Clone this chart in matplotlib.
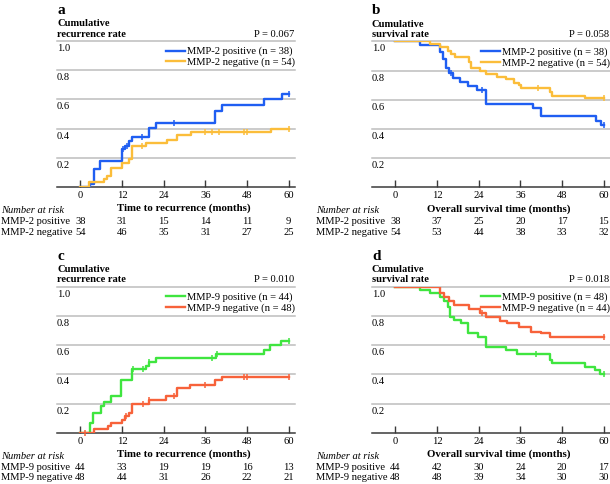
import numpy as np
import matplotlib
matplotlib.use("Agg")
import matplotlib.pyplot as plt
from matplotlib import transforms

plt.rcParams['font.family'] = ['Liberation Serif', 'DejaVu Serif']

# ---------------- data ----------------
xticks = [0, 12, 24, 36, 48, 60]
yticks = [0.2, 0.4, 0.6, 0.8, 1.0]

# Panel a: cumulative recurrence, MMP-2
a_pos_t = [0, 2.7, 3.9, 5.8, 11.9, 12.8, 13.9, 14.9, 19.8, 21.9, 38.8, 40.8, 53.0, 58.0, 60]
a_pos_v = [0, 0.02, 0.126, 0.178, 0.258, 0.283, 0.313, 0.34, 0.407, 0.44, 0.52, 0.56, 0.60, 0.64, 0.64]
a_pos_c = [12.3, 13.5, 17.8, 27.0, 60]
a_neg_t = [0, 2.6, 6.8, 7.8, 8.9, 11.9, 13.9, 14.8, 18.8, 24.9, 27.9, 32.0, 55.0, 60]
a_neg_v = [0, 0.034, 0.055, 0.075, 0.128, 0.165, 0.19, 0.28, 0.30, 0.32, 0.354, 0.377, 0.40, 0.40]
a_neg_c = [17.8, 35.9, 37.9, 39.9, 47.0, 48.0, 60]
a_risk_pos = [38, 31, 15, 14, 11, 9]
a_risk_neg = [54, 46, 35, 31, 27, 25]

# Panel b: overall survival, MMP-2
b_pos_t = [0, 7.0, 13.0, 13.7, 14.7, 15.6, 16.6, 18.5, 20.8, 23.6, 26.0, 39.6, 42.0, 57.9, 59.1, 60]
b_pos_v = [1, 0.977, 0.93, 0.88, 0.815, 0.78, 0.75, 0.72, 0.696, 0.667, 0.571, 0.54, 0.49, 0.457, 0.427, 0.427]
b_pos_c = [15.9, 25.0, 60]
b_neg_t = [0, 9.9, 13.0, 15.2, 16.1, 17.2, 21.2, 21.9, 24.3, 26.0, 29.4, 31.8, 34.3, 35.6, 36.3, 44.4, 45.0, 54.7, 60]
b_neg_v = [1, 0.982, 0.959, 0.936, 0.913, 0.89, 0.86, 0.815, 0.80, 0.776, 0.758, 0.74, 0.717, 0.70, 0.68, 0.65, 0.628, 0.614, 0.614]
b_neg_c = [41.1, 60]
b_risk_pos = [38, 37, 25, 20, 17, 15]
b_risk_neg = [54, 53, 44, 38, 33, 32]

# Panel c: cumulative recurrence, MMP-9
c_pos_t = [0, 2.7, 3.8, 5.9, 6.9, 8.8, 11.8, 15.0, 19.0, 19.75, 21.9, 39.0, 52.9, 54.6, 57.9, 60]
c_pos_v = [0, 0.069, 0.138, 0.184, 0.209, 0.25, 0.363, 0.437, 0.46, 0.485, 0.51, 0.54, 0.565, 0.60, 0.628, 0.628]
c_pos_c = [15.2, 18.0, 19.8, 38.0, 39.3, 60]
c_neg_t = [0, 4.0, 8.0, 8.8, 12.0, 12.9, 14.0, 15.0, 19.7, 24.7, 27.8, 31.7, 38.9, 40.9, 60]
c_neg_v = [0, 0.025, 0.048, 0.069, 0.087, 0.115, 0.133, 0.198, 0.225, 0.253, 0.303, 0.326, 0.359, 0.384, 0.384]
c_neg_c = [1.3, 13.2, 18.0, 19.9, 27.0, 35.9, 47.0, 48.0, 60]
c_risk_pos = [44, 33, 19, 19, 16, 13]
c_risk_neg = [48, 44, 31, 26, 22, 21]

# Panel d: overall survival, MMP-9
d_pos_t = [0, 7.0, 9.9, 13.0, 13.9, 15.1, 15.8, 16.8, 18.8, 21.0, 23.8, 26.0, 32.0, 35.0, 44.4, 45.0, 54.7, 57.4, 58.8, 60]
d_pos_v = [1, 0.977, 0.954, 0.927, 0.904, 0.863, 0.795, 0.772, 0.75, 0.685, 0.658, 0.589, 0.566, 0.539, 0.498, 0.475, 0.452, 0.43, 0.40, 0.40]
d_pos_c = [40.6, 60]
d_neg_t = [0, 13.0, 13.9, 15.6, 16.8, 21.2, 24.3, 26.0, 30.0, 32.2, 35.6, 39.2, 42.0, 44.4, 60]
d_neg_v = [1, 0.954, 0.927, 0.90, 0.874, 0.845, 0.822, 0.795, 0.767, 0.75, 0.726, 0.69, 0.68, 0.658, 0.658]
d_neg_c = [25.0, 60]
d_risk_pos = [44, 42, 30, 24, 20, 17]
d_risk_neg = [48, 48, 39, 34, 30, 30]

BLUE = '#1f5ef2'
ORANGE = '#fbbd3a'
GREEN = '#3fe53f'
RED = '#f7623a'

W, H = 610, 484
fig = plt.figure(figsize=(W / 100, H / 100), dpi=100)

FS = 7.6


def px_axes(l, r, t, b):
    return fig.add_axes([l / W, 1 - b / H, (r - l) / W, (b - t) / H])


def ftext(x, y, s, **kw):
    fig.text(x / W, 1 - y / H, s, **kw)


def step_y(t, v, x):
    idx = np.searchsorted(t, x, side='right') - 1
    return np.asarray(v)[idx]


def panel(l, r, t, b, letter, ylab2, pval, xlab, curves, labels, risk, risk_names, row_left):
    ax = px_axes(l, r, t, b)
    ax.set_xlim(-6.7, 61.8)
    ax.set_ylim(0, 1.0)
    for sp in ['left', 'right', 'top']:
        ax.spines[sp].set_visible(False)
    ax.spines['bottom'].set_color('#3a3a3a')
    ax.spines['bottom'].set_linewidth(1.1)
    for y in yticks:
        ax.axhline(y, color='#bdbdbd', lw=1.1, zorder=1, clip_on=False)
    ax.set_yticks([])
    ax.set_xticks(xticks)
    ax.tick_params(axis='x', direction='in', length=5, width=1, color='#3a3a3a',
                   pad=3, labelsize=FS)
    # y labels inside the axes, just under each gridline
    tr = transforms.blended_transform_factory(ax.transAxes, ax.transData)
    off = transforms.ScaledTranslation(0, -3 / 100, fig.dpi_scale_trans)
    for y in yticks:
        ax.text(0.0, y, f'{y:.1f}', transform=tr + off, ha='left', va='top', fontsize=FS)
    handles = []
    for (tt, vv, cc, col) in curves:
        h, = ax.step(tt, vv, where='post', color=col, lw=1.7, zorder=3)
        ax.plot(cc, step_y(tt, vv, cc), ls='none', marker='|', ms=5, mew=1.1,
                color=col, zorder=4, clip_on=False)
        handles.append(h)
    ax.legend(handles, labels, loc='upper right', bbox_to_anchor=(1.0, 0.96),
              frameon=False, fontsize=FS, handlelength=1.8, handletextpad=0.15,
              labelspacing=0.12, borderaxespad=0.0, borderpad=0.0)
    ax.set_xlabel(xlab, fontsize=FS + 0.2, fontweight='bold')
    ax.xaxis.set_label_coords(0.534, -0.115)
    # header texts
    ftext(l, t - 27, letter, fontsize=11, fontweight='bold', va='baseline', ha='left')
    ftext(l, t - 14.5, 'Cumulative', fontsize=FS, fontweight='bold', va='baseline', ha='left')
    ftext(l, t - 4.3, ylab2, fontsize=FS, fontweight='bold', va='baseline', ha='left')
    ftext(r - 1, t - 4.3, pval, fontsize=FS, va='baseline', ha='right')
    # number at risk
    ftext(row_left, b + 26, 'Number at risk', fontsize=FS, style='italic', va='baseline')
    trx = transforms.blended_transform_factory(ax.transData, fig.transFigure)
    for k, (name, vals) in enumerate(zip(risk_names, risk)):
        yb = b + 37 + 10.7 * k
        ftext(row_left, yb, name, fontsize=FS, va='baseline')
        for xv, n in zip(xticks, vals):
            ax.text(xv, 1 - yb / H, str(n), transform=trx, ha='center', va='baseline',
                    fontsize=FS)
    return ax


panel(57, 295, 41, 187, 'a', 'recurrence rate', 'P = 0.067', 'Time to recurrence (months)',
      [(a_pos_t, a_pos_v, a_pos_c, BLUE), (a_neg_t, a_neg_v, a_neg_c, ORANGE)],
      ['MMP-2 positive (n = 38)', 'MMP-2 negative (n = 54)'],
      [a_risk_pos, a_risk_neg], ['MMP-2 positive', 'MMP-2 negative'], 1)

panel(372, 610, 41.3, 187.3, 'b', 'survival rate', 'P = 0.058', 'Overall survival time (months)',
      [(b_pos_t, b_pos_v, b_pos_c, BLUE), (b_neg_t, b_neg_v, b_neg_c, ORANGE)],
      ['MMP-2 positive (n = 38)', 'MMP-2 negative (n = 54)'],
      [b_risk_pos, b_risk_neg], ['MMP-2 positive', 'MMP-2 negative'], 316.5)

panel(57, 295, 286.7, 432.7, 'c', 'recurrence rate', 'P = 0.010', 'Time to recurrence (months)',
      [(c_pos_t, c_pos_v, c_pos_c, GREEN), (c_neg_t, c_neg_v, c_neg_c, RED)],
      ['MMP-9 positive (n = 44)', 'MMP-9 negative (n = 48)'],
      [c_risk_pos, c_risk_neg], ['MMP-9 positive', 'MMP-9 negative'], 1)

panel(372, 610, 286.7, 432.7, 'd', 'survival rate', 'P = 0.018', 'Overall survival time (months)',
      [(d_pos_t, d_pos_v, d_pos_c, GREEN), (d_neg_t, d_neg_v, d_neg_c, RED)],
      ['MMP-9 positive (n = 48)', 'MMP-9 negative (n = 44)'],
      [d_risk_pos, d_risk_neg], ['MMP-9 positive', 'MMP-9 negative'], 316.5)

fig.savefig('out.png', dpi=100)
